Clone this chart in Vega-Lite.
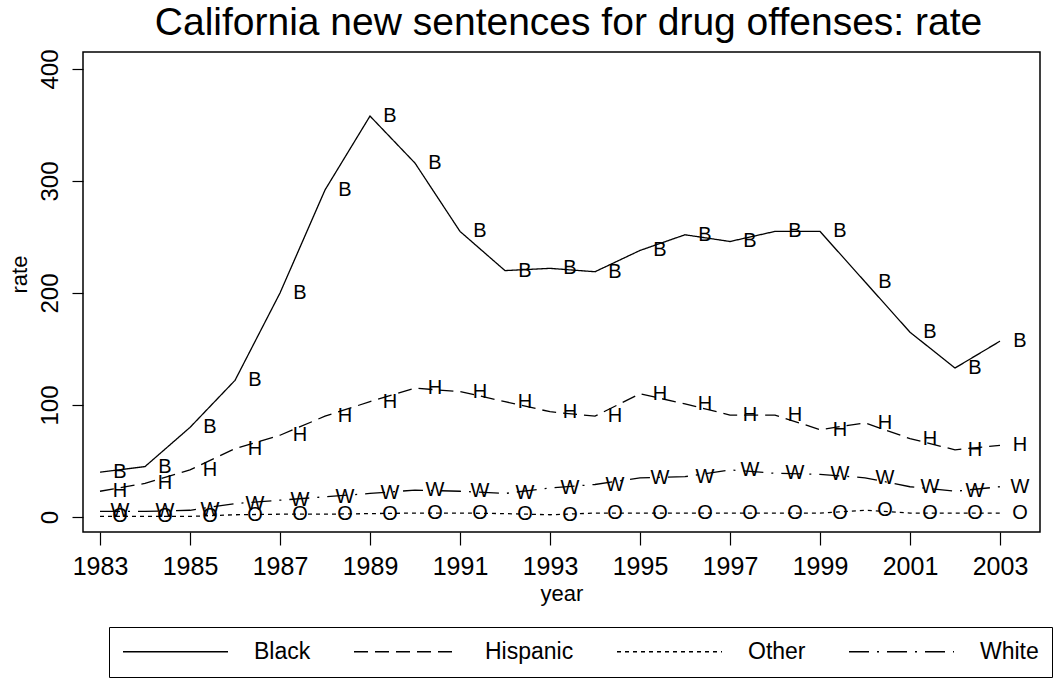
{
  "$schema": "https://vega.github.io/schema/vega-lite/v6.json",
  "autosize": "none",
  "width": 957,
  "height": 480,
  "padding": {"left": 83, "top": 52, "right": 15, "bottom": 147},
  "background": "white",
  "title": {
    "text": "California new sentences for drug offenses: rate",
    "font": "Liberation Sans",
    "fontSize": 39,
    "fontWeight": "normal",
    "color": "black",
    "anchor": "middle",
    "frame": "group",
    "offset": 6,
    "dx": 7
  },
  "config": {
    "view": {"stroke": "black", "strokeWidth": 1.5},
    "font": "Liberation Sans"
  },
  "data": {
    "values": [
      {"year": 1983, "group": "Black", "rate": 40},
      {"year": 1984, "group": "Black", "rate": 45},
      {"year": 1985, "group": "Black", "rate": 80},
      {"year": 1986, "group": "Black", "rate": 122},
      {"year": 1987, "group": "Black", "rate": 200},
      {"year": 1988, "group": "Black", "rate": 292},
      {"year": 1989, "group": "Black", "rate": 358},
      {"year": 1990, "group": "Black", "rate": 316},
      {"year": 1991, "group": "Black", "rate": 255},
      {"year": 1992, "group": "Black", "rate": 220},
      {"year": 1993, "group": "Black", "rate": 222},
      {"year": 1994, "group": "Black", "rate": 219},
      {"year": 1995, "group": "Black", "rate": 238},
      {"year": 1996, "group": "Black", "rate": 252},
      {"year": 1997, "group": "Black", "rate": 246},
      {"year": 1998, "group": "Black", "rate": 255},
      {"year": 1999, "group": "Black", "rate": 255},
      {"year": 2000, "group": "Black", "rate": 210},
      {"year": 2001, "group": "Black", "rate": 165},
      {"year": 2002, "group": "Black", "rate": 133},
      {"year": 2003, "group": "Black", "rate": 157},
      {"year": 1983, "group": "Hispanic", "rate": 23},
      {"year": 1984, "group": "Hispanic", "rate": 30},
      {"year": 1985, "group": "Hispanic", "rate": 42},
      {"year": 1986, "group": "Hispanic", "rate": 61},
      {"year": 1987, "group": "Hispanic", "rate": 73},
      {"year": 1988, "group": "Hispanic", "rate": 90},
      {"year": 1989, "group": "Hispanic", "rate": 103},
      {"year": 1990, "group": "Hispanic", "rate": 115},
      {"year": 1991, "group": "Hispanic", "rate": 112},
      {"year": 1992, "group": "Hispanic", "rate": 103},
      {"year": 1993, "group": "Hispanic", "rate": 94},
      {"year": 1994, "group": "Hispanic", "rate": 90},
      {"year": 1995, "group": "Hispanic", "rate": 110},
      {"year": 1996, "group": "Hispanic", "rate": 101},
      {"year": 1997, "group": "Hispanic", "rate": 91},
      {"year": 1998, "group": "Hispanic", "rate": 91},
      {"year": 1999, "group": "Hispanic", "rate": 78},
      {"year": 2000, "group": "Hispanic", "rate": 84},
      {"year": 2001, "group": "Hispanic", "rate": 70},
      {"year": 2002, "group": "Hispanic", "rate": 60},
      {"year": 2003, "group": "Hispanic", "rate": 64},
      {"year": 1983, "group": "Other", "rate": 0.5},
      {"year": 1984, "group": "Other", "rate": 0.5},
      {"year": 1985, "group": "Other", "rate": 0.5},
      {"year": 1986, "group": "Other", "rate": 2},
      {"year": 1987, "group": "Other", "rate": 2.5},
      {"year": 1988, "group": "Other", "rate": 2.5},
      {"year": 1989, "group": "Other", "rate": 3},
      {"year": 1990, "group": "Other", "rate": 3.5},
      {"year": 1991, "group": "Other", "rate": 3.5},
      {"year": 1992, "group": "Other", "rate": 3},
      {"year": 1993, "group": "Other", "rate": 2},
      {"year": 1994, "group": "Other", "rate": 3.5},
      {"year": 1995, "group": "Other", "rate": 3.5},
      {"year": 1996, "group": "Other", "rate": 3.5},
      {"year": 1997, "group": "Other", "rate": 3.5},
      {"year": 1998, "group": "Other", "rate": 3.5},
      {"year": 1999, "group": "Other", "rate": 3.5},
      {"year": 2000, "group": "Other", "rate": 6},
      {"year": 2001, "group": "Other", "rate": 3.5},
      {"year": 2002, "group": "Other", "rate": 3.5},
      {"year": 2003, "group": "Other", "rate": 3.5},
      {"year": 1983, "group": "White", "rate": 5},
      {"year": 1984, "group": "White", "rate": 5},
      {"year": 1985, "group": "White", "rate": 6},
      {"year": 1986, "group": "White", "rate": 12},
      {"year": 1987, "group": "White", "rate": 15},
      {"year": 1988, "group": "White", "rate": 18},
      {"year": 1989, "group": "White", "rate": 21},
      {"year": 1990, "group": "White", "rate": 24},
      {"year": 1991, "group": "White", "rate": 23},
      {"year": 1992, "group": "White", "rate": 21},
      {"year": 1993, "group": "White", "rate": 26},
      {"year": 1994, "group": "White", "rate": 29},
      {"year": 1995, "group": "White", "rate": 35},
      {"year": 1996, "group": "White", "rate": 36},
      {"year": 1997, "group": "White", "rate": 42},
      {"year": 1998, "group": "White", "rate": 39},
      {"year": 1999, "group": "White", "rate": 38},
      {"year": 2000, "group": "White", "rate": 35},
      {"year": 2001, "group": "White", "rate": 27},
      {"year": 2002, "group": "White", "rate": 23},
      {"year": 2003, "group": "White", "rate": 27}
    ]
  },
  "encoding": {
    "x": {
      "field": "year",
      "type": "quantitative",
      "scale": {"domain": [1982.622, 2003.889], "nice": false, "zero": false},
      "axis": {
        "values": [1983, 1985, 1987, 1989, 1991, 1993, 1995, 1997, 1999, 2001, 2003],
        "format": "d",
        "grid": false,
        "domain": false,
        "tickColor": "black",
        "tickSize": 13,
        "tickWidth": 1.2,
        "labelFont": "Liberation Sans",
        "labelFontSize": 25,
        "labelColor": "black",
        "labelPadding": 9,
        "labelFlush": false,
        "title": "year",
        "titleFont": "Liberation Sans",
        "titleFontSize": 22,
        "titleFontWeight": "normal",
        "titleColor": "black",
        "titlePadding": 4
      }
    },
    "y": {
      "field": "rate",
      "type": "quantitative",
      "scale": {"domain": [-13.4, 415.2], "nice": false, "zero": false},
      "axis": {
        "values": [0, 100, 200, 300, 400],
        "grid": false,
        "domain": false,
        "tickColor": "black",
        "tickSize": 11,
        "tickWidth": 1.2,
        "labelAngle": -90,
        "labelAlign": "center",
        "labelBaseline": "bottom",
        "labelFont": "Liberation Sans",
        "labelFontSize": 24,
        "labelColor": "black",
        "labelPadding": 10,
        "labelFlush": false,
        "title": "rate",
        "titleFont": "Liberation Sans",
        "titleFontSize": 22,
        "titleFontWeight": "normal",
        "titleColor": "black",
        "titleAlign": "center",
        "titleBaseline": "middle",
        "titleX": -64,
        "titleY": 222
      }
    }
  },
  "layer": [
    {
      "mark": {"type": "line", "color": "black", "strokeWidth": 1.3},
      "encoding": {
        "strokeDash": {
          "field": "group",
          "type": "nominal",
          "scale": {
            "domain": ["Black", "Hispanic", "Other", "White"],
            "range": [[1, 0], [14, 7], [4, 4], [20, 8, 2, 8]]
          },
          "legend": {
            "title": null,
            "orient": "none",
            "legendX": 26,
            "legendY": 575,
            "direction": "horizontal",
            "columns": 4,
            "symbolType": "M-5,0H5",
            "symbolSize": 441,
            "symbolOffset": 42,
            "symbolStrokeWidth": 1.3,
            "symbolStrokeColor": "black",
            "labelFont": "Liberation Sans",
            "labelFontSize": 23,
            "labelColor": "black",
            "labelOffset": 67,
            "columnPadding": 40,
            "padding": 13,
            "strokeColor": "black",
            "fillColor": "white"
          }
        }
      }
    },
    {
      "transform": [{"calculate": "substring(datum.group, 0, 1)", "as": "letter"}],
      "mark": {
        "type": "text",
        "dx": 20,
        "align": "center",
        "baseline": "middle",
        "font": "Liberation Sans",
        "fontSize": 20,
        "color": "black"
      },
      "encoding": {"text": {"field": "letter"}}
    }
  ]
}
